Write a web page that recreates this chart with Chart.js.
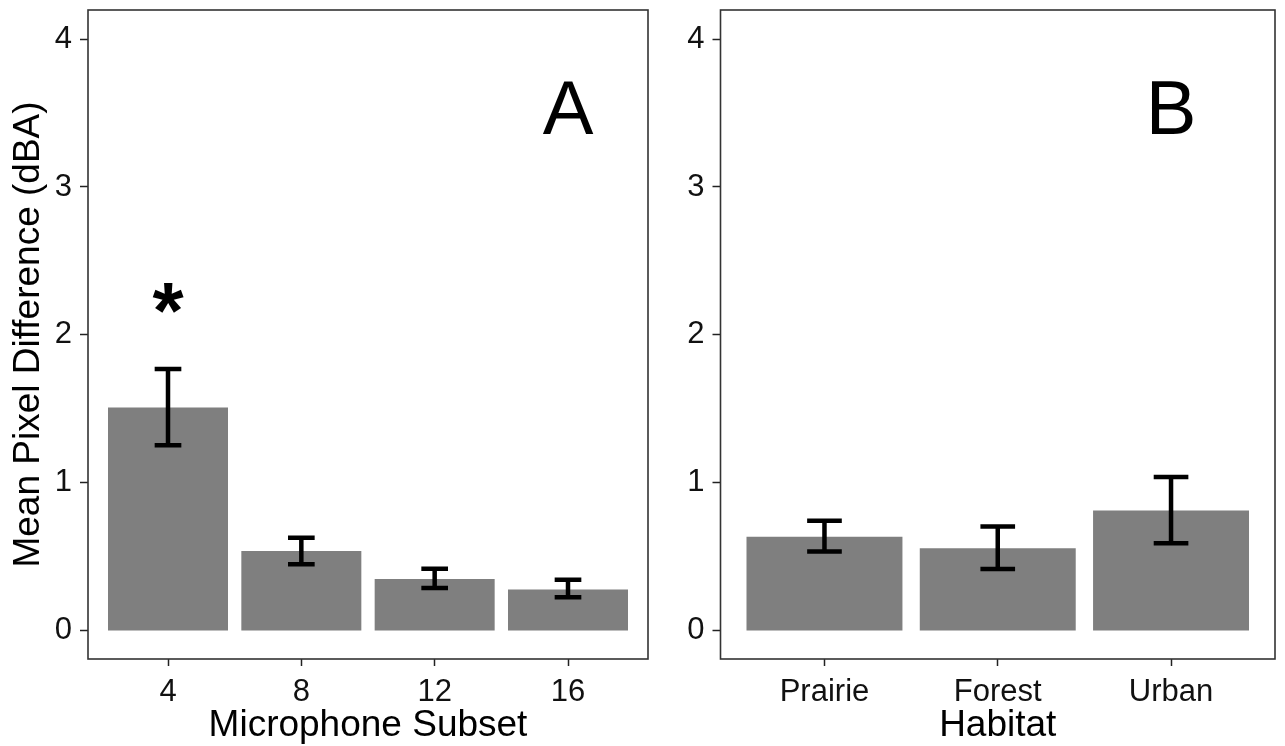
<!DOCTYPE html>
<html><head><meta charset="utf-8">
<script src="https://cdn.jsdelivr.net/npm/chart.js@4.4.1/dist/chart.umd.min.js"></script>
<style>
html,body{margin:0;padding:0;background:#fff;}
#wrap{position:relative;width:1285px;height:746px;overflow:hidden;}
#ca{position:absolute;left:0;top:0;}
#cb{position:absolute;left:660px;top:0;}
</style></head><body>
<div id="wrap">
<canvas id="ca" width="660" height="746"></canvas>
<canvas id="cb" width="625" height="746"></canvas>
</div>
<script>
// ---- data ----
const subsetCats = [4, 8, 12, 16];
const subsetMeans = [1.51, 0.54, 0.35, 0.28];
const subsetLower = [1.255, 0.45, 0.29, 0.228];
const subsetUpper = [1.77, 0.63, 0.42, 0.345];
const subsetMarks = ['*', '', '', ''];
const subsetMarkY = [1.98, null, null, null];

const habitatCats = ['Prairie', 'Forest', 'Urban'];
const habitatPos = [1, 2, 3];
const habitatMeans = [0.637, 0.559, 0.813];
const habitatLower = [0.536, 0.419, 0.593];
const habitatUpper = [0.745, 0.705, 1.04];

const yTicks = [0, 1, 2, 3, 4];
const panelLabels = ['A', 'B'];
const panelLabelY = 3.5;

// ---- styling ----
const FONT = "'Liberation Sans', Arial, sans-serif";
const BAR = '#7f7f7f';
const FRAME = '#333333';

const errPlugin = {
  id: 'errs',
  afterDatasetsDraw(chart, args, o) {
    const ctx = chart.ctx;
    const meta = chart.getDatasetMeta(0);
    const ys = chart.scales.y, xs = chart.scales.x;
    ctx.save();
    ctx.strokeStyle = '#000';
    ctx.lineWidth = 4.5;
    ctx.lineCap = 'butt';
    meta.data.forEach((bar, i) => {
      const x = bar.x;
      const cw = bar.width * 0.2 / 0.9;
      const yl = ys.getPixelForValue(o.lower[i]);
      const yu = ys.getPixelForValue(o.upper[i]);
      ctx.beginPath();
      ctx.moveTo(x, yl); ctx.lineTo(x, yu);
      ctx.moveTo(x - cw / 2, yl); ctx.lineTo(x + cw / 2, yl);
      ctx.moveTo(x - cw / 2, yu); ctx.lineTo(x + cw / 2, yu);
      ctx.stroke();
      if (o.marks && o.marks[i]) {
        ctx.fillStyle = '#000';
        ctx.font = 'bold 80px ' + FONT;
        ctx.textAlign = 'center';
        ctx.textBaseline = 'alphabetic';
        ctx.fillText(o.marks[i], x, ys.getPixelForValue(o.markY[i]));
      }
    });
    // panel letter
    ctx.fillStyle = '#000';
    ctx.font = '76px ' + FONT;
    ctx.textAlign = 'center';
    ctx.textBaseline = 'middle';
    ctx.fillText(o.label, xs.getPixelForValue(o.labelX), ys.getPixelForValue(o.labelY));
    // frame
    const a = chart.chartArea;
    ctx.strokeStyle = FRAME;
    ctx.lineWidth = 1.6;
    ctx.strokeRect(a.left, a.top, a.right - a.left, a.bottom - a.top);
    ctx.restore();
  }
};

function yScale(title, width) {
  return {
    type: 'linear', min: -0.19, max: 4.196,
    afterBuildTicks: s => { s.ticks = yTicks.map(v => ({ value: v })); },
    afterFit: s => { s.width = width; s.paddingTop = 0; s.paddingBottom = 0; },
    grid: { drawOnChartArea: false, drawTicks: true, tickLength: 8, tickColor: '#222', tickWidth: 1.5, color: 'rgba(0,0,0,0)' },
    border: { display: false },
    ticks: { font: { family: FONT, size: 31 }, color: '#111', padding: 8 },
    title: { display: !!title, text: title, font: { family: FONT, size: 37, lineHeight: 1 }, color: '#000', padding: { top: 10.5, bottom: 0 } }
  };
}

function xScale(title, min, max, tickVals, fmt) {
  return {
    type: 'linear', min: min, max: max, offset: false,
    afterBuildTicks: s => { s.ticks = tickVals.map(v => ({ value: v })); },
    afterFit: s => { s.height = 87; s.paddingLeft = 0; s.paddingRight = 0; },
    grid: { offset: false, drawOnChartArea: false, drawTicks: true, tickLength: 7, tickColor: '#222', tickWidth: 1.5, color: 'rgba(0,0,0,0)' },
    border: { display: false },
    ticks: { font: { family: FONT, size: 31 }, color: '#111', padding: 8, maxRotation: 0, autoSkip: false, callback: fmt },
    title: { display: true, text: title, font: { family: FONT, size: 37, lineHeight: 1 }, color: '#000', padding: { top: 0, bottom: 1.5 } }
  };
}

new Chart(document.getElementById('ca'), {
  type: 'bar',
  data: {
    datasets: [{
      data: subsetCats.map((c, i) => ({ x: c, y: subsetMeans[i] })),
      backgroundColor: BAR, borderWidth: 0,
      categoryPercentage: 1, barPercentage: 0.9
    }]
  },
  options: {
    responsive: false, animation: false,
    layout: { padding: { left: 0, top: 10, right: 12, bottom: 0 } },
    plugins: {
      legend: { display: false }, tooltip: { enabled: false },
      errs: { lower: subsetLower, upper: subsetUpper, marks: subsetMarks, markY: subsetMarkY, label: panelLabels[0], labelX: subsetCats[3], labelY: panelLabelY }
    },
    scales: {
      x: xScale('Microphone Subset', 1.6, 18.4, subsetCats, v => String(v)),
      y: yScale('Mean Pixel Difference (dBA)', 88)
    }
  },
  plugins: [errPlugin]
});

new Chart(document.getElementById('cb'), {
  type: 'bar',
  data: {
    datasets: [{
      data: habitatPos.map((p, i) => ({ x: p, y: habitatMeans[i] })),
      backgroundColor: BAR, borderWidth: 0,
      categoryPercentage: 1, barPercentage: 0.9
    }]
  },
  options: {
    responsive: false, animation: false,
    layout: { padding: { left: 0, top: 10, right: 10, bottom: 0 } },
    plugins: {
      legend: { display: false }, tooltip: { enabled: false },
      errs: { lower: habitatLower, upper: habitatUpper, marks: null, label: panelLabels[1], labelX: habitatPos[2], labelY: panelLabelY }
    },
    scales: {
      x: xScale('Habitat', 0.4, 3.6, habitatPos, v => habitatCats[habitatPos.indexOf(v)] || ''),
      y: yScale('', 60.5)
    }
  },
  plugins: [errPlugin]
});
</script>
</body></html>
